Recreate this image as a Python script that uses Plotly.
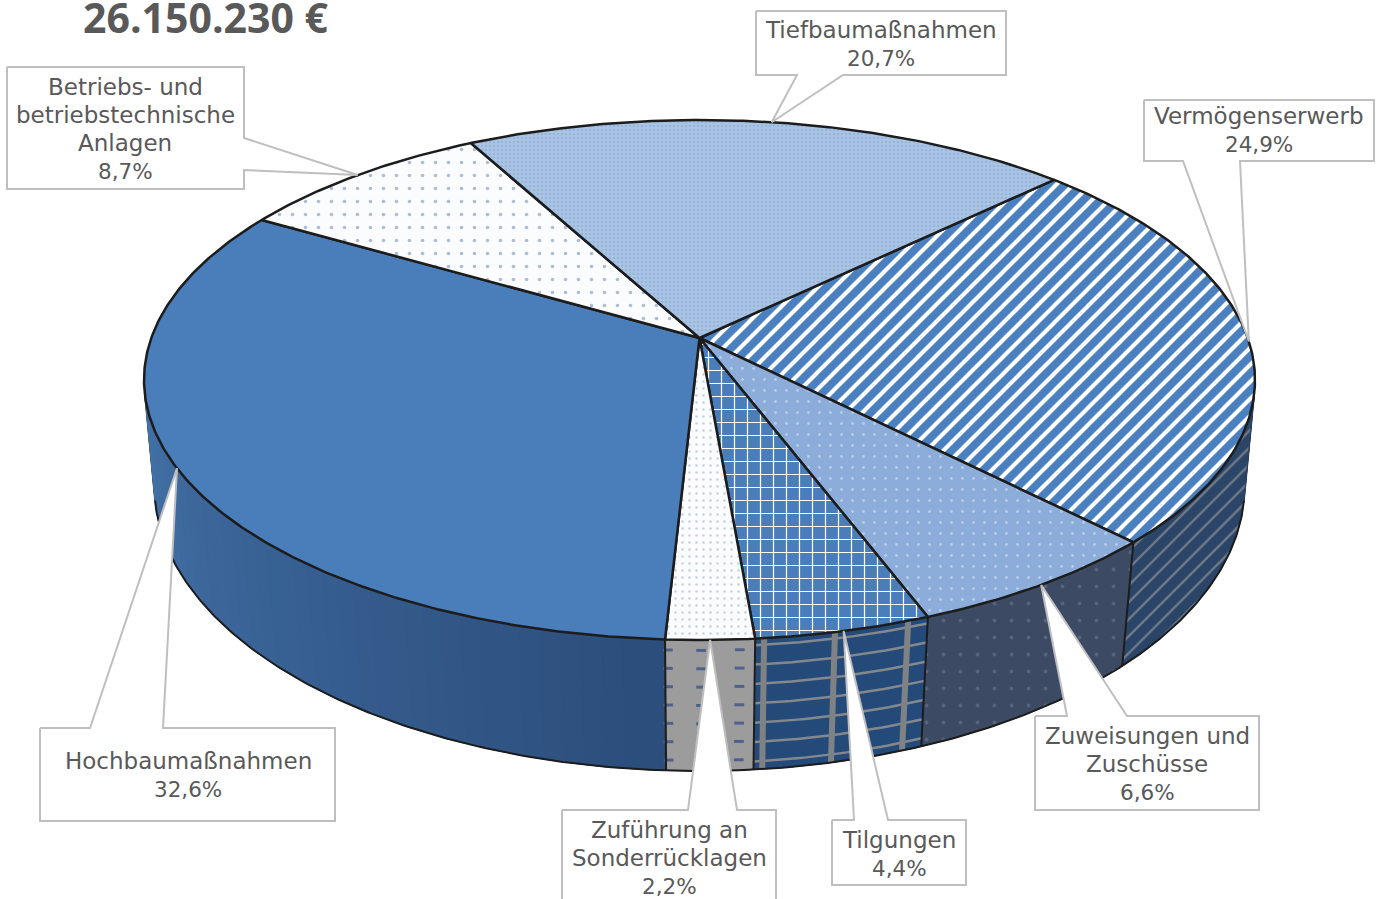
import numpy as np
import plotly.graph_objects as go

CATEGORIES = [
    "Vermögenserwerb",
    "Zuweisungen und<br>Zuschüsse",
    "Tilgungen",
    "Zuführung an<br>Sonderrücklagen",
    "Hochbaumaßnahmen",
    "Betriebs- und<br>betriebstechnische<br>Anlagen",
    "Tiefbaumaßnahmen",
]
SHARES = [24.9, 6.6, 4.4, 2.2, 32.6, 8.7, 20.7]
SHARE_LABELS = ["24,9%", "6,6%", "4,4%", "2,2%", "32,6%", "8,7%", "20,7%"]
TOTAL_LABEL = "26.150.230 €"

FONT = "DejaVu Sans"
TEXT_COLOR = "#595959"
EDGE = "#1c1c1c"
CALLOUT = "#bfbfbf"
START_ANGLE = 46.0
LINE_STEP = 28.3

# perspective of the two discs: x0, half width, y0, y slope, perspective
TOP = dict(cx=699.5, a=548.2, y0=338.0, p=-198.6, k=0.1615)
BOTTOM = dict(cx=699.5, a=539.0, y0=443.25, p=-212.1, k=0.15)

# top face patterns in slice order
TOP_STYLE = [
    dict(fillcolor="#4a80c0", fillpattern=dict(shape="/", fgcolor="#ffffff", fgopacity=1, bgcolor="#4a80c0", size=12.02, solidity=0.34)),
    dict(fillcolor="#8cadd9", fillpattern=dict(shape=".", fgcolor="#b8cdea", fgopacity=1, bgcolor="#8cadd9", size=11, solidity=0.05)),
    dict(fillcolor="#4a7ebb", fillpattern=dict(shape="+", fgcolor="#ffffff", fgopacity=1, bgcolor="#4a7ebb", size=13, solidity=0.18)),
    dict(fillcolor="#fbfcfe", fillpattern=dict(shape=".", fgcolor="#c5cfe0", fgopacity=1, bgcolor="#fbfcfe", size=7, solidity=0.1)),
    dict(fillcolor="#4a7ebb"),
    dict(fillcolor="#fbfcfe", fillpattern=dict(shape=".", fgcolor="#aebcd4", fgopacity=1, bgcolor="#fbfcfe", size=13, solidity=0.06)),
    dict(fillcolor="#a3bfe0", fillpattern=dict(shape=".", fgcolor="#8aa8d0", fgopacity=0.6, bgcolor="#a9c4e4", size=4, solidity=0.3)),
]
WALL_STYLE = [
    dict(fillcolor="#2b4569", fillpattern=dict(shape="/", fgcolor="#6d7885", fgopacity=1, bgcolor="#2b4569", size=12, solidity=0.2)),
    dict(fillcolor="#3c4b63", fillpattern=dict(shape=".", fgcolor="#55647c", fgopacity=1, bgcolor="#3c4b63", size=17, solidity=0.04)),
    dict(fillcolor="#244a7a"),
    dict(fillcolor="#9c9c9c"),
    None,
]

# callout boxes: x0, y0, x1, y1, side of the wedge, wedge base, text centre
BOXES = [
    dict(box=(1144, 100, 1374, 161), side="bottom", base=(1183, 1240), text=(1259, 130)),
    dict(box=(1035, 716, 1259, 810), side="top", base=(1067, 1127), text=(1147, 764)),
    dict(box=(832, 820, 966, 885), side="top", base=(854, 888), text=(899, 854)),
    dict(box=(562, 810, 776, 930), side="top", base=(688, 737), text=(669, 858)),
    dict(box=(40, 728, 335, 821), side="top", base=(90, 163), text=(188, 775)),
    dict(box=(7, 67, 244, 189), side="right", base=(138, 170), text=(125, 129)),
    dict(box=(756, 11, 1006, 75), side="bottom", base=(797, 843), text=(881, 44)),
]


def project(deg, disc):
    th = np.radians(deg)
    big_x, big_y = np.sin(th), np.cos(th)
    w = 1 + disc["k"] * big_y
    return disc["cx"] + disc["a"] * big_x / w, (disc["y0"] + disc["p"] * big_y) / w


def arc(a0, a1, disc):
    n = max(int(abs(a1 - a0)) * 2, 2)
    return project(np.linspace(a0, a1, n + 1), disc)


def wall_at(deg, t):
    x0, y0 = project(deg, TOP)
    x1, y1 = project(deg, BOTTOM)
    return x0 + (x1 - x0) * t, y0 + (y1 - y0) * t


def wall_poly(a0, a1):
    xt, yt = arc(a0, a1, TOP)
    xb, yb = arc(a1, a0, BOTTOM)
    return np.r_[xt, xb, xt[0]], np.r_[yt, yb, yt[0]]


def hull(points):
    # monotone chain, points carry their disc index and angle along
    pts = sorted(points)

    def half(seq):
        out = []
        for p in seq:
            while len(out) > 1 and (out[-1][0] - out[-2][0]) * (p[1] - out[-2][1]) - (out[-1][1] - out[-2][1]) * (p[0] - out[-2][0]) <= 0:
                out.pop()
            out.append(p)
        return out[:-1]

    return half(pts) + half(pts[::-1])


def callout_path(item, tip):
    x0, y0, x1, y1 = item["box"]
    b0, b1 = item["base"]
    if item["side"] == "top":
        pts = [(x0, y0), (b0, y0), tip, (b1, y0), (x1, y0), (x1, y1), (x0, y1), (x0, y0)]
    elif item["side"] == "bottom":
        pts = [(x0, y0), (x1, y0), (x1, y1), (b1, y1), tip, (b0, y1), (x0, y1), (x0, y0)]
    else:
        pts = [(x0, y0), (x1, y0), (x1, b0), tip, (x1, b1), (x1, y1), (x0, y1), (x0, y0)]
    return [p[0] for p in pts], [p[1] for p in pts]


shares = np.array(SHARES) / sum(SHARES) * 360
ends = START_ANGLE + np.cumsum(shares)
starts = ends - shares

fig = go.Figure()

# outer silhouette of the drum, fills the gaps at the far left and right
sweep = np.arange(0, 360, 0.5)
top_xy = project(sweep, TOP)
bot_xy = project(sweep, BOTTOM)
outline = hull(
    [(float(x), float(y), 0, float(d)) for x, y, d in zip(*top_xy, sweep)]
    + [(float(x), float(y), 1, float(d)) for x, y, d in zip(*bot_xy, sweep)]
)
tangents = [(a, b) for a, b in zip(outline, outline[1:] + outline[:1]) if a[2] != b[2]]
tangent_angles = sorted((a if a[2] == 1 else b)[3] for a, b in tangents)
wall_from, wall_to = tangent_angles[0], tangent_angles[-1]

left_part = [p for p in outline if p[0] < TOP["cx"]]
right_part = [p for p in outline if p[0] >= TOP["cx"]]
fig.add_scatter(
    x=[p[0] for p in left_part], y=[p[1] for p in left_part], mode="lines", fill="toself",
    fillcolor="#4472a8", line=dict(color="#4472a8", width=1),
)
fig.add_scatter(
    x=[p[0] for p in right_part], y=[p[1] for p in right_part], mode="lines", fill="toself",
    line=dict(color="#2b4569", width=1), **WALL_STYLE[0],
)
for a, b in tangents:
    fig.add_scatter(x=[a[0], b[0]], y=[a[1], b[1]], mode="lines", line=dict(color=EDGE, width=1.6))

# side wall, only the part facing the viewer
for i in range(len(shares)):
    a0, a1 = max(starts[i], wall_from), min(ends[i], wall_to)
    if a1 <= a0:
        continue
    if WALL_STYLE[i] is None:
        # Hochbau wall has a soft gradient
        steps = np.linspace(a0, a1, 41)
        for j in range(40):
            f = j / 39
            col = "rgb(%d,%d,%d)" % (44 + 24 * f, 78 + 36 * f, 124 + 44 * f)
            x, y = wall_poly(steps[j], steps[j + 1])
            fig.add_scatter(x=x, y=y, mode="lines", fill="toself", fillcolor=col, line=dict(color=col, width=1))
    else:
        x, y = wall_poly(a0, a1)
        fig.add_scatter(x=x, y=y, mode="lines", fill="toself", line=dict(color=WALL_STYLE[i]["fillcolor"], width=1), **WALL_STYLE[i])

# Tilgungen wall grid
grid_x, grid_y = [], []
for t in np.arange(0.05, 1.0, 0.148):
    xs, ys = wall_at(np.linspace(starts[2], ends[2], 25), t)
    grid_x += list(xs) + [None]
    grid_y += list(ys) + [None]
fig.add_scatter(x=grid_x, y=grid_y, mode="lines", line=dict(color="#84888c", width=2.5))
grid_x, grid_y = [], []
for f in (0.12, 0.55, 0.95):
    xs, ys = wall_at(starts[2] + (ends[2] - starts[2]) * f, np.array([0.0, 1.0]))
    grid_x += list(xs) + [None]
    grid_y += list(ys) + [None]
fig.add_scatter(x=grid_x, y=grid_y, mode="lines", line=dict(color="#7f8285", width=6))

# Zuführung wall dashes
dash_x, dash_y = [], []
for f in (0.17, 0.6, 0.97):
    for t in np.arange(0.08, 1.0, 0.14):
        px, py = wall_at(starts[3] + (ends[3] - starts[3]) * f, t)
        dash_x.append(px)
        dash_y.append(py)
fig.add_scatter(
    x=dash_x, y=dash_y, mode="markers",
    marker=dict(symbol="line-ew", size=7, line=dict(color="#51628a", width=3)),
)

# wall outlines: lower rim plus the slice edges
xs, ys = arc(wall_from, wall_to, BOTTOM)
fig.add_scatter(x=xs, y=ys, mode="lines", line=dict(color=EDGE, width=2))
for d in ends:
    if wall_from < d < wall_to:
        xs, ys = wall_at(d, np.array([0.0, 1.0]))
        fig.add_scatter(x=xs, y=ys, mode="lines", line=dict(color=EDGE, width=2))

# top face
for i in range(len(shares)):
    xs, ys = arc(starts[i], ends[i], TOP)
    cx, cy = TOP["cx"], TOP["y0"]
    x = np.r_[cx, xs, cx]
    y = np.r_[cy, ys, cy]
    fig.add_scatter(x=x, y=y, mode="lines", fill="toself", line=dict(color=EDGE, width=2.5), **TOP_STYLE[i])

# callouts, tip sits on the rim at the middle of each slice
for i, item in enumerate(BOXES):
    tip = project((starts[i] + ends[i]) / 2, TOP)
    tip = (float(tip[0]), float(tip[1]))
    x, y = callout_path(item, tip)
    fig.add_scatter(x=x, y=y, mode="lines", fill="toself", fillcolor="#ffffff", line=dict(color=CALLOUT, width=2))
    lines = CATEGORIES[i].split("<br>") + [SHARE_LABELS[i]]
    for n, line in enumerate(lines):
        fig.add_annotation(
            x=item["text"][0], y=item["text"][1] + (n - (len(lines) - 1) / 2) * LINE_STEP,
            xref="x", yref="y", showarrow=False, text=line,
            font=dict(family=FONT, size=21.5 if n == len(lines) - 1 else 23, color=TEXT_COLOR),
        )

fig.add_annotation(
    x=206, y=17, xref="x", yref="y", showarrow=False,
    text=f"<b>{TOTAL_LABEL}</b>", font=dict(family="Open Sans", size=41, color=TEXT_COLOR),
)

fig.update_xaxes(range=[0, 1386], visible=False)
fig.update_yaxes(range=[899, 0], visible=False)
fig.update_layout(
    width=1386,
    height=899,
    margin=dict(t=0, l=0, r=0, b=0),
    showlegend=False,
    paper_bgcolor="#ffffff",
    plot_bgcolor="#ffffff",
)
fig.write_html("out.html", config=dict(displayModeBar=False), post_script="document.body.style.margin='0';")
